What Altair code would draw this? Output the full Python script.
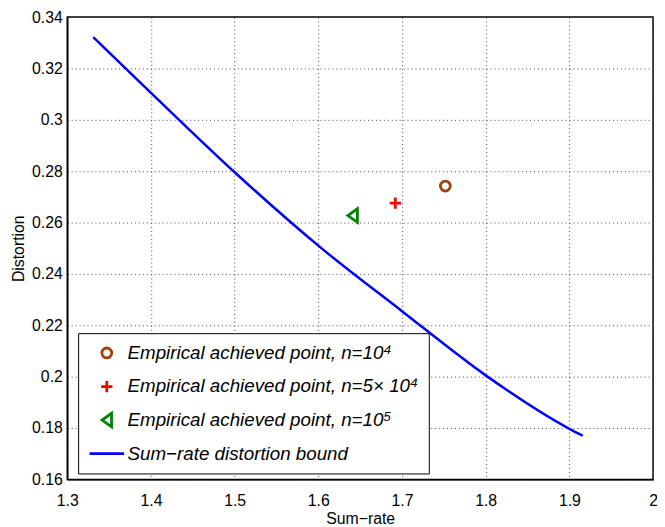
import altair as alt
import pandas as pd

# ---- data ----
series_labels = [
    "Empirical achieved point, n=10\u2074",
    "Empirical achieved point, n=5\u00d7 10\u2074",
    "Empirical achieved point, n=10\u2075",
    "Sum\u2212rate distortion bound",
]
series_colors = ["#a0400c", "#ff0000", "#008000", "#0000ff"]
series_shapes = ["circle", "M-1,0L1,0M0,-1L0,1", "M-0.7,0L0.7,-1L0.7,1Z", "stroke"]
series_sizes = [100, 130, 190, 1225]

point_rate = [1.7518, 1.692, 1.641]
point_dist = [0.2742, 0.2676, 0.2627]

curve_rate = [1.331, 1.4, 1.5, 1.6, 1.7, 1.8, 1.9, 1.916]
curve_dist = [0.3322, 0.3105, 0.2796, 0.251, 0.2255, 0.2005, 0.1797, 0.1770]

x_ticks = [1.3, 1.4, 1.5, 1.6, 1.7, 1.8, 1.9, 2.0]
y_ticks = [0.16, 0.18, 0.20, 0.22, 0.24, 0.26, 0.28, 0.30, 0.32, 0.34]

points_df = pd.DataFrame({"rate": point_rate, "dist": point_dist, "series": series_labels[:3]})
curve_df = pd.DataFrame({"rate": curve_rate, "dist": curve_dist, "series": series_labels[3]})

FONT = "Liberation Sans"

legend = alt.Legend(
    title=None,
    orient="none",
    legendX=11,
    legendY=320,
    strokeColor="black",
    fillColor="white",
    padding=10,
    labelFont=FONT,
    labelFontSize=19,
    labelFontStyle="italic",
    labelColor="black",
    labelLimit=0,
    labelOffset=2,
    rowPadding=14,
    clipHeight=20,
    symbolStrokeWidth=2.8,
)

color_scale = alt.Scale(domain=series_labels, range=series_colors)
shape_scale = alt.Scale(domain=series_labels, range=series_shapes)
size_scale = alt.Scale(type="ordinal", domain=series_labels, range=series_sizes)

x_enc = alt.X(
    "rate:Q",
    scale=alt.Scale(domain=[1.3, 2.0], nice=False, zero=False),
    axis=alt.Axis(
        values=x_ticks, format=".1~f", title="Sum\u2212rate",
        labelPadding=13, titlePadding=3,
    ),
)
y_enc = alt.Y(
    "dist:Q",
    scale=alt.Scale(domain=[0.16, 0.34], nice=False, zero=False),
    axis=alt.Axis(
        values=y_ticks, format=".2~f", title="Distortion",
        labelPadding=5, titlePadding=5,
    ),
)

line = alt.Chart(curve_df).mark_line(strokeWidth=2.5, interpolate="monotone").encode(
    x=x_enc,
    y=y_enc,
    color=alt.Color("series:N", scale=color_scale, legend=legend),
)

points = alt.Chart(points_df).mark_point(filled=False, strokeWidth=2.8, opacity=1).encode(
    x=x_enc,
    y=y_enc,
    color=alt.Color("series:N", scale=color_scale, legend=legend),
    shape=alt.Shape("series:N", scale=shape_scale, legend=legend),
    size=alt.Size("series:N", scale=size_scale, legend=legend),
)

chart = (
    alt.layer(line, points)
    .properties(
        width=593,
        height=468,
        autosize=alt.AutoSizeParams(type="none"),
        padding={"left": 60, "top": 6, "right": 4, "bottom": 45},
        background="white",
    )
    .configure_view(stroke="black", strokeWidth=1.5)
    .configure_axis(
        grid=True,
        gridColor="#444444",
        gridDash=[1, 3],
        gridWidth=1,
        gridOpacity=1,
        ticks=False,
        domain=True,
        domainColor="black",
        domainWidth=1.5,
        labelFont=FONT,
        labelFontSize=16,
        labelColor="black",
        labelFlush=False,
        labelOverlap=False,
        titleFont=FONT,
        titleFontSize=16,
        titleFontWeight="normal",
        titleColor="black",
    )
)

chart.save("out.html", embed_options={"renderer": "svg", "actions": False})
